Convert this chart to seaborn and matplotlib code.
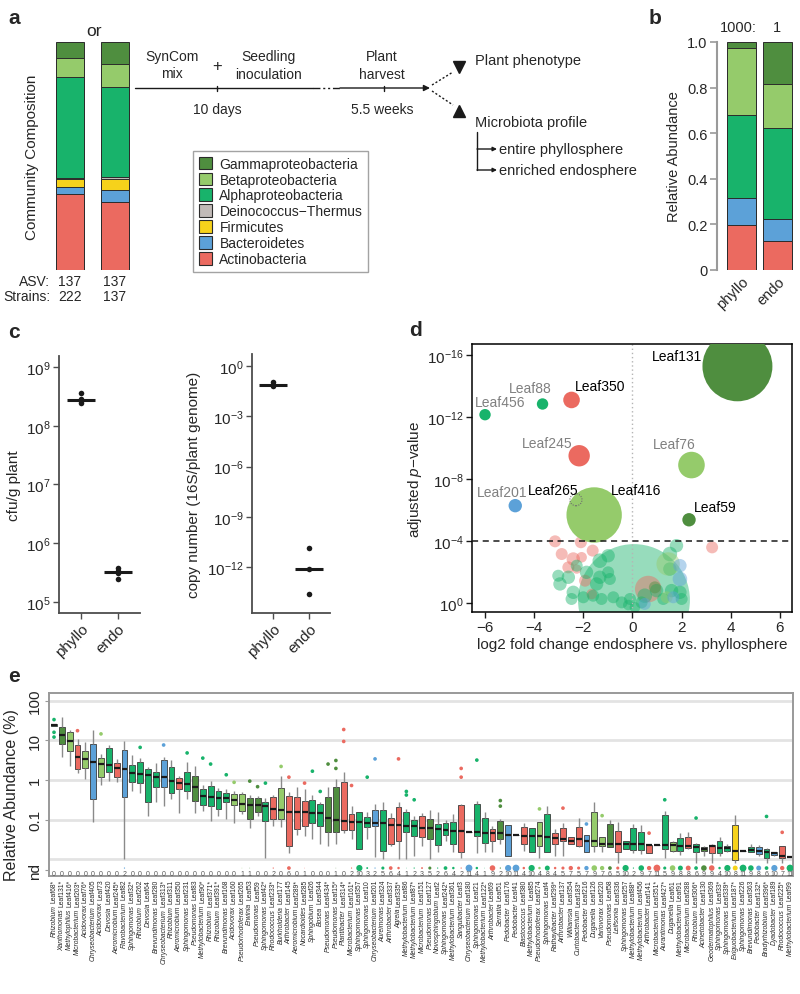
import numpy as np
import pandas as pd
import matplotlib
matplotlib.use("Agg")
import matplotlib.pyplot as plt
from matplotlib.patches import Patch
import seaborn as sns

sns.set_theme(style="white")
plt.rcParams["font.family"] = ["Liberation Sans", "DejaVu Sans"]
plt.rcParams["mathtext.fontset"] = "custom"
plt.rcParams["mathtext.rm"] = "Liberation Sans"
plt.rcParams["mathtext.it"] = "Liberation Sans:italic"
plt.rcParams["mathtext.bf"] = "Liberation Sans:bold"

W, H = 800, 995

# %% data ---------------------------------------------------------------
phyla = ["Gammaproteobacteria", "Betaproteobacteria", "Alphaproteobacteria",
         "Deinococcus\u2212Thermus", "Firmicutes", "Bacteroidetes", "Actinobacteria"]
phylum_colors = ["#4f8e3f", "#95cb6b", "#18b36b", "#c1bab7", "#f6d21b", "#5ca1d8", "#eb6a60"]
palette = dict(zip(phyla, phylum_colors))
G, B, A, D, F, BAC, ACT = phyla

# panel a: SynCom composition (fractions, same order as phyla = top to bottom)
comp_222 = [0.070, 0.084, 0.443, 0.004, 0.034, 0.032, 0.333]
comp_137 = [0.095, 0.103, 0.394, 0.007, 0.051, 0.051, 0.299]
asv_counts = [137, 137]
strain_counts = [222, 137]

# panel b: relative abundance phyllo / endo
rel_phyllo = [0.028, 0.292, 0.365, 0.0, 0.0, 0.119, 0.196]
rel_endo = [0.186, 0.189, 0.402, 0.0, 0.0, 0.095, 0.128]

# panel c: log10 values
cfu_phyllo = [8.56, 8.46, 8.42, 8.39]
cfu_endo = [5.57, 5.53, 5.49, 5.39]
copy_phyllo = [-0.93, -1.15, -1.17]
copy_endo = [-10.86, -12.11, -13.59]

# panel d: labelled strains (log2 FC, -log10 adjusted p)
d_names = ["Leaf131", "Leaf350", "Leaf88", "Leaf456", "Leaf245", "Leaf76",
           "Leaf201", "Leaf265", "Leaf416", "Leaf59"]
d_lfc = [4.27, -2.48, -3.66, -6.00, -2.17, 2.40, -4.77, -2.30, -1.56, 2.30]
d_nlp = [15.27, 13.10, 12.84, 12.15, 9.50, 8.90, 6.28, 6.66, 5.68, 5.37]
d_phylum = [G, ACT, A, A, ACT, B, BAC, B, B, G]
d_radius = [35, 8.3, 5.7, 5.7, 10.7, 13.3, 6.7, 6.0, 27.7, 6.7]
d_dark_label = [True, True, False, False, False, False, False, True, True, True]
d_label_x = [1.83, -1.30, -4.16, -5.39, -3.47, 1.68, -5.32, -3.21, 0.14, 3.36]
d_label_y = [15.92, 13.98, 13.85, 12.99, 10.30, 10.26, 7.18, 7.31, 7.31, 6.19]

# panel d: non-significant strains
d_bg_lfc = [0.06,
            -3.15, -2.10, -2.88, -2.41, -2.07, -1.62, -2.61, 3.24, -1.93, -1.66, 0.64, -2.27,
            1.79, 1.52, -1.33, -0.99, -2.27, -2.95, -2.61, -2.41, -2.48, -1.46, -1.33, -0.99, -0.92,
            -1.60, -1.26, -0.78, -0.44, -0.17, 0.10, 0.37, 0.50, 0.98, 1.25, 1.59, 1.93, 2.00, 1.52,
            -0.10, -2.00, -3.02, -1.87,
            1.45, 1.39,
            1.93, 1.93, 1.66, 0.50,
            0.91]
d_bg_nlp = [0.19,
            3.98, 3.92, 3.16, 2.84, 2.95, 3.38, 2.30, 3.59, 1.44, 0.58, 0.90, 2.19,
            3.70, 3.16, 2.73, 3.05, 2.41, 1.23, 1.66, 0.69, 0.26, 1.23, 1.66, 1.98, 1.55,
            0.47, 0.26, 0.37, 0.04, -0.13, -0.28, 0.04, 0.47, 0.80, 0.26, 0.80, 0.69, 0.26, 2.19,
            0.26, 0.37, 1.76, 1.98,
            2.52, 0.37,
            2.41, 1.55, 0.37, -0.06,
            1.01]
d_bg_phylum = [A] + [ACT] * 12 + [A] * 31 + [B] * 2 + [BAC] * 4 + [G]
d_bg_radius = [56,
               6, 6, 6, 6.7, 5.3, 6, 6, 6, 6, 5.3, 13.3, 4.7,
               6.7, 7.3, 7.3, 6.7, 6, 6.7, 6.7, 6.7, 6, 6.7, 6.7, 6, 6,
               6, 6, 6, 6, 5.3, 5.3, 6, 7.3, 6.7, 6, 6.7, 6.7, 6, 6.7,
               6, 6, 6, 6.7,
               11.7, 6,
               6.7, 7.3, 6, 6,
               6]

# panel e: strains
e_genus = ["Rhizobium", "Xanthomonas", "Methylophilus", "Microbacterium", "Acidovorax",
           "Chryseobacterium", "Acidovorax", "Devosia", "Aeromicrobium", "Flavobacterium",
           "Sphingomonas", "Rhizobium", "Devosia", "Brevundimonas", "Chryseobacterium",
           "Rhizobium", "Aeromicrobium", "Sphingomonas", "Pseudomonas", "Methylobacterium",
           "Rhizobium", "Rhizobium", "Brevundimonas", "Acidovorax", "Pseudorhodoferax",
           "Erwinia", "Pseudomonas", "Sphingomonas", "Rhodococcus", "Burkholderia",
           "Arthrobacter", "Aeromicrobium", "Nocardioides", "Sphingobium", "Bosea",
           "Pseudomonas", "Pseudomonas", "Plantibacter", "Microbacterium", "Sphingomonas",
           "Sphingomonas", "Chryseobacterium", "Aureimonas", "Arthrobacter", "Agreia",
           "Methylobacterium", "Methylobacterium", "Microbacterium", "Pseudomonas", "Novosphingobium",
           "Sphingomonas", "Methylobacterium", "Sanguibacter", "Chryseobacterium", "Sphingomonas",
           "Methylobacterium", "Arthrobacter", "Serratia", "Pedobacter", "Pedobacter",
           "Blastococcus", "Methylobacterium", "Pseudorhodoferax", "Sphingomonas", "Rathayibacter",
           "Arthrobacter", "Williamsia", "Curtobacterium", "Pedobacter", "Duganella",
           "Variovorax", "Pseudomonas", "Leifsonia", "Sphingomonas", "Methylobacterium",
           "Methylobacterium", "Arthrobacter", "Microbacterium", "Aurantimonas", "Duganella",
           "Methylobacterium", "Microbacterium", "Rhizobium", "Acinetobacter", "Geodermatophilus",
           "Sphingomonas", "Sphingomonas", "Exiguobacterium", "Sphingomonas", "Brevundimonas",
           "Pedobacter", "Bradyrhizobium", "Dyadobacter", "Rhodococcus", "Methylobacterium"]
e_leaf = ["Leaf68*", "Leaf131*", "Leaf416*", "Leaf203*", "Leaf76*", "Leaf405", "Leaf73", "Leaf420", "Leaf245*", "Leaf82",
          "Leaf32*", "Leaf262", "Leaf64", "Leaf280", "Leaf313*", "Leaf311", "Leaf350", "Leaf231", "Leaf83", "Leaf90*",
          "Leaf371*", "Leaf391*", "Leaf168", "Leaf160", "Leaf265", "Leaf53", "Leaf59", "Leaf42*", "Leaf233*", "Leaf177",
          "Leaf145", "Leaf289*", "Leaf285", "Leaf26", "Leaf344", "Leaf434*", "Leaf15*", "Leaf314*", "Leaf161*", "Leaf357",
          "Leaf10", "Leaf201", "Leaf324", "Leaf337", "Leaf335*", "Leaf86", "Leaf87*", "Leaf151", "Leaf127", "Leaf2",
          "Leaf242*", "Leaf361", "Leaf3", "Leaf180", "Leaf21", "Leaf122*", "Leaf69", "Leaf51", "Leaf176", "Leaf41",
          "Leaf380", "Leaf85", "Leaf274", "Leaf4", "Leaf299*", "Leaf137", "Leaf354", "Leaf183*", "Leaf216", "Leaf126",
          "Leaf220", "Leaf58", "Leaf336", "Leaf257", "Leaf88*", "Leaf456", "Leaf141", "Leaf351*", "Leaf427*", "Leaf61",
          "Leaf91", "Leaf288", "Leaf306*", "Leaf130", "Leaf369", "Leaf33*", "Leaf339*", "Leaf187*", "Leaf226", "Leaf363",
          "Leaf132*", "Leaf396*", "Leaf189", "Leaf225*", "Leaf99"]
genus_phylum = {}
for g in ["Rhizobium", "Methylobacterium", "Sphingomonas", "Devosia", "Brevundimonas", "Sphingobium",
          "Bosea", "Aureimonas", "Novosphingobium", "Aurantimonas", "Bradyrhizobium"]:
    genus_phylum[g] = A
for g in ["Methylophilus", "Acidovorax", "Pseudorhodoferax", "Burkholderia", "Duganella", "Variovorax"]:
    genus_phylum[g] = B
for g in ["Xanthomonas", "Pseudomonas", "Erwinia", "Serratia", "Acinetobacter"]:
    genus_phylum[g] = G
for g in ["Microbacterium", "Aeromicrobium", "Rhodococcus", "Arthrobacter", "Nocardioides", "Plantibacter",
          "Agreia", "Sanguibacter", "Blastococcus", "Rathayibacter", "Williamsia", "Curtobacterium",
          "Leifsonia", "Geodermatophilus"]:
    genus_phylum[g] = ACT
for g in ["Chryseobacterium", "Flavobacterium", "Pedobacter", "Dyadobacter"]:
    genus_phylum[g] = BAC
genus_phylum["Exiguobacterium"] = F

# box statistics, log10 of relative abundance (%)
e_lo = [1.35, 0.57, 0.34, 0.18, 0.03, -1.07, -0.14, -0.02, -0.06, -1.99,
        -0.27, -0.34, -0.92, -0.56, -0.66, -0.48, -0.83, -0.48, -0.83, -0.77,
        -1.03, -0.90, -0.98, -1.09, -0.86, -1.22, -0.90, -1.97, -1.15, -1.19,
        -1.84, -1.39, -1.40, -1.49, -1.61, -1.67, -1.61, -1.34, -1.49, -1.74,
        -1.49, -1.95, -2.00, -1.66, -2.00, -1.99, -1.91, -1.67, -2.00, -1.82,
        -1.53, -1.82, -1.97, -1.32, -1.84, -1.82, -1.82, -1.61, -1.92, -1.39,
        -1.78, -1.81, -1.97, -1.81, -1.91, -1.91, -1.61, -1.70, -1.81, -1.81,
        -1.82, -1.70, -2.09, -1.74, -1.84, -1.86, -1.84, -1.64, -1.97, -1.81,
        -1.88, -1.74, -2.08, -1.91, -2.09, -1.91, -1.82, -2.09, -1.78, -1.81,
        -1.91, -2.08, -1.91, -2.08, -1.95]
e_q1 = [1.35, 0.91, 0.74, 0.28, 0.29, -0.48, 0.07, 0.19, 0.08, -0.44,
        -0.04, -0.08, -0.56, -0.18, -0.17, -0.33, -0.23, -0.29, -0.52, -0.63,
        -0.65, -0.73, -0.56, -0.62, -0.77, -0.98, -0.80, -1.03, -0.98, -0.98,
        -1.66, -1.24, -1.15, -1.08, -1.17, -1.30, -1.30, -1.25, -1.25, -1.74,
        -1.19, -1.17, -1.78, -1.61, -1.55, -1.30, -1.40, -1.45, -1.50, -1.64,
        -1.39, -1.61, -1.81, -1.32, -1.42, -1.59, -1.55, -1.49, -1.92, -1.39,
        -1.61, -1.81, -1.67, -1.81, -1.61, -1.55, -1.61, -1.66, -1.81, -1.67,
        -1.67, -1.70, -1.81, -1.74, -1.76, -1.76, -1.84, -1.64, -1.74, -1.78,
        -1.78, -1.72, -1.81, -1.78, -1.84, -1.84, -1.78, -2.01, -1.78, -1.81,
        -1.87, -1.97, -1.89, -1.97, -1.95]
e_med = [1.38, 1.13, 0.99, 0.58, 0.52, 0.45, 0.39, 0.38, 0.29, 0.28,
         0.18, 0.16, 0.13, 0.08, 0.07, -0.02, -0.08, -0.09, -0.19, -0.41,
         -0.42, -0.45, -0.45, -0.50, -0.61, -0.63, -0.63, -0.65, -0.73, -0.75,
         -0.80, -0.80, -0.80, -0.83, -0.84, -0.95, -1.00, -1.03, -1.05, -1.07,
         -1.08, -1.09, -1.09, -1.13, -1.13, -1.17, -1.17, -1.20, -1.22, -1.24,
         -1.25, -1.28, -1.29, -1.32, -1.32, -1.34, -1.34, -1.34, -1.38, -1.39,
         -1.40, -1.40, -1.40, -1.43, -1.47, -1.49, -1.53, -1.50, -1.53, -1.55,
         -1.61, -1.61, -1.61, -1.61, -1.61, -1.62, -1.64, -1.64, -1.64, -1.64,
         -1.66, -1.67, -1.70, -1.74, -1.67, -1.71, -1.71, -1.78, -1.78, -1.76,
         -1.78, -1.82, -1.84, -1.92, -1.95]
e_q3 = [1.40, 1.34, 1.22, 0.87, 0.73, 0.91, 0.55, 0.81, 0.43, 0.76,
        0.38, 0.45, 0.28, 0.19, 0.50, 0.32, 0.04, 0.19, 0.11, -0.23,
        -0.16, -0.27, -0.33, -0.35, -0.35, -0.46, -0.46, -0.55, -0.44, -0.21,
        -0.41, -0.44, -0.52, -0.50, -0.61, -0.42, -0.18, -0.06, -0.87, -0.82,
        -0.94, -0.75, -0.76, -0.95, -0.69, -0.82, -1.00, -0.92, -0.98, -1.10,
        -1.09, -1.05, -0.62, -1.32, -0.60, -0.97, -1.23, -1.04, -1.13, -1.39,
        -1.19, -1.22, -1.07, -0.86, -1.33, -1.22, -1.45, -1.19, -1.39, -0.82,
        -1.45, -1.11, -1.28, -1.55, -1.22, -1.32, -1.64, -1.64, -0.88, -1.57,
        -1.47, -1.45, -1.61, -1.68, -1.64, -1.55, -1.66, -1.13, -1.78, -1.70,
        -1.70, -1.74, -1.81, -1.66, -1.95]
e_hi = [1.40, 1.58, 1.27, 1.03, 0.95, 1.27, 0.66, 0.88, 0.53, 0.99,
        0.63, 0.55, 0.32, 0.43, 0.57, 0.49, 0.09, 0.45, 0.34, -0.14,
        -0.02, -0.21, -0.23, -0.27, -0.31, -0.38, -0.41, -0.46, -0.38, 0.11,
        -0.31, -0.18, -0.24, -0.38, -0.55, -0.18, 0.03, 0.19, -0.65, -0.82,
        -0.82, -0.61, -0.55, -0.83, -0.56, -0.73, -0.90, -0.83, -0.75, -0.82,
        -1.02, -0.86, -0.60, -1.32, -0.52, -0.80, -1.15, -0.98, -1.13, -1.39,
        -1.08, -1.22, -1.07, -0.65, -1.24, -1.08, -1.45, -0.97, -1.39, -0.56,
        -1.45, -1.00, -1.07, -1.55, -1.11, -1.13, -1.64, -1.64, -0.77, -1.55,
        -1.34, -1.32, -1.59, -1.66, -1.61, -1.45, -1.61, -0.88, -1.78, -1.61,
        -1.64, -1.72, -1.81, -1.66, -1.95]
e_out_idx = [0, 0, 0, 3, 6, 11, 14, 17, 19, 20, 22, 23, 25, 26, 27, 29, 30, 32, 33, 34, 35,
             36, 36, 37, 37, 38, 40, 41, 44, 45, 45, 46, 52, 52, 54, 57, 57, 62, 65, 68, 70,
             76, 78, 82, 91, 93]
e_out_val = [1.52, 1.20, 1.08, 1.24, 1.16, 0.82, 0.88, 0.68, 0.55, 0.40, 0.13, -0.06, -0.03,
             -0.17, -0.08, 0.34, 0.07, -0.08, 0.22, -0.29, 0.40, 0.49, 0.29, 1.27, 0.97, -0.14,
             0.07, 0.53, 0.53, -0.29, -0.38, -0.50, 0.29, 0.07, 0.50, -0.52, -0.66, -0.73, -0.71,
             -1.11, -0.90, -1.34, -0.50, -0.96, -0.92, -1.32]
# number of samples where the strain was not detected
e_nd = [0, 0, 0, 0, 0, 0, 0, 0, 0, 2, 0, 0, 0, 0, 0, 0, 0, 0, 0, 0,
        0, 0, 0, 0, 1, 1, 0, 0, 2, 0, 6, 0, 1, 0, 0, 0, 1, 0, 2, 10,
        3, 2, 5, 6, 4, 1, 2, 3, 5, 2, 6, 4, 2, 11, 4, 1, 9, 2, 10, 11,
        4, 10, 4, 8, 4, 5, 7, 5, 7, 9, 7, 6, 5, 10, 2, 9, 7, 11, 5, 9,
        8, 8, 6, 9, 9, 4, 10, 8, 11, 9, 8, 6, 10, 7, 11]

# %% figure -------------------------------------------------------------
fig = plt.figure(figsize=(W / 100, H / 100), dpi=100)


def px_axes(l, t, r, b):
    ax = fig.add_axes([l / W, 1 - b / H, (r - l) / W, (b - t) / H])
    ax.set_facecolor("none")
    return ax


def stacked_bars(ax, cats, fracs, width):
    # draw tallest first, each lower phylum on top of it
    for k, col in enumerate(phylum_colors):
        tops = [sum(f[k:]) for f in fracs]
        sns.barplot(x=cats, y=tops, color=col, width=width, saturation=1,
                    edgecolor="#2b2b2b", linewidth=0.7, errorbar=None, ax=ax)


ax_bg = px_axes(0, 0, W, H)
ax_bg.set_xlim(0, W)
ax_bg.set_ylim(H, 0)
ax_bg.axis("off")

for lab, x, y in [("a", 14, 18), ("b", 655, 18), ("c", 14, 333), ("d", 416, 330), ("e", 14, 677)]:
    ax_bg.text(x, y, lab, fontsize=15, fontweight="bold", ha="center", va="center")

# ---- panel a
ax_a = px_axes(45, 43, 140, 271)
stacked_bars(ax_a, ["s222", "s137"], [comp_222, comp_137], 0.62)
ax_a.set_xlim(-0.556, 1.556)
ax_a.set_ylim(0, 1)
ax_a.axis("off")

ax_bg.text(94, 32, "or", fontsize=12.5, ha="center", va="center")
ax_bg.text(32, 157, "Community Composition", fontsize=11, rotation=90, ha="center", va="center")
ax_bg.text(50, 282, "ASV:", fontsize=10, ha="right", va="center")
ax_bg.text(50, 297, "Strains:", fontsize=10, ha="right", va="center")
for xc, n_asv, n_str in zip([70, 115], asv_counts, strain_counts):
    ax_bg.text(xc, 282, str(n_asv), fontsize=10, ha="center", va="center")
    ax_bg.text(xc, 297, str(n_str), fontsize=10, ha="center", va="center")

handles = [Patch(facecolor=c, edgecolor="#2b2b2b", linewidth=0.8, label=p)
           for p, c in zip(phyla, phylum_colors)]
leg = fig.legend(handles=handles, loc="upper left", bbox_to_anchor=(193 / W, 1 - 152 / H),
                 frameon=True, fancybox=False, edgecolor="#8c8c8c", fontsize=10,
                 handlelength=1.0, handleheight=1.0, handletextpad=0.5,
                 labelspacing=0.14, borderpad=0.4, borderaxespad=0)
leg.get_frame().set_linewidth(1.0)

# workflow diagram
ax_bg.plot([135, 313], [89, 89], color="k", lw=1)
ax_bg.plot([313, 340], [89, 89], color="k", lw=1, ls=(0, (5, 2, 1.5, 2, 1.5, 2)))
ax_bg.annotate("", xy=(430, 89), xytext=(340, 89),
               arrowprops=dict(arrowstyle="-|>", color="k", lw=1, mutation_scale=9,
                               shrinkA=0, shrinkB=0))
for xt in [217, 384]:
    ax_bg.plot([xt, xt], [86.5, 91.5], color="k", lw=1)
ax_bg.plot([432, 453], [86, 73], color="k", lw=1, ls=(0, (1.5, 1.5)))
ax_bg.plot([432, 453], [92, 106], color="k", lw=1, ls=(0, (1.5, 1.5)))
ax_bg.plot(459, 68, marker="v", color="k", ms=8)
ax_bg.plot(459, 112, marker="^", color="k", ms=8)
ax_bg.plot([477, 477], [133, 171], color="k", lw=1)
for yy in [150, 171]:
    ax_bg.annotate("", xy=(497, yy), xytext=(477, yy),
                   arrowprops=dict(arrowstyle="-|>", color="k", lw=1, mutation_scale=6,
                                   shrinkA=0, shrinkB=0))
ax_bg.text(172, 57, "SynCom", fontsize=10, ha="center", va="center")
ax_bg.text(172, 74, "mix", fontsize=10, ha="center", va="center")
ax_bg.text(217, 67, "+", fontsize=12, ha="center", va="center")
ax_bg.text(268, 57, "Seedling", fontsize=10, ha="center", va="center")
ax_bg.text(268, 75, "inoculation", fontsize=10, ha="center", va="center")
ax_bg.text(217, 110, "10 days", fontsize=10, ha="center", va="center")
ax_bg.text(382, 57, "Plant", fontsize=10, ha="center", va="center")
ax_bg.text(382, 75, "harvest", fontsize=10, ha="center", va="center")
ax_bg.text(382, 110, "5.5 weeks", fontsize=10, ha="center", va="center")
ax_bg.text(475, 61, "Plant phenotype", fontsize=10.5, ha="left", va="center")
ax_bg.text(475, 123, "Microbiota profile", fontsize=10.5, ha="left", va="center")
ax_bg.text(499, 150, "entire phyllosphere", fontsize=10.5, ha="left", va="center")
ax_bg.text(499, 171, "enriched endosphere", fontsize=10.5, ha="left", va="center")

# ---- panel b
ax_b = px_axes(717, 43, 795, 271)
stacked_bars(ax_b, ["phyllo", "endo"], [rel_phyllo, rel_endo], 0.8)
ax_b.set_xlim(-0.68, 1.49)
ax_b.set_ylim(0, 1)
for s in ["top", "right", "bottom"]:
    ax_b.spines[s].set_visible(False)
ax_b.spines["left"].set_color("#9a9a9a")
ax_b.spines["left"].set_linewidth(1.5)
ax_b.set_yticks([0, 0.2, 0.4, 0.6, 0.8, 1.0])
ax_b.set_yticklabels(["0", "0.2", "0.4", "0.6", "0.8", "1.0"], fontsize=10.5)
ax_b.tick_params(axis="y", direction="out", length=5, width=1.2, color="#9a9a9a", pad=2, left=True)
ax_b.set_xticks([0, 1])
ax_b.set_xticklabels(["phyllo", "endo"], rotation=45, ha="right", rotation_mode="anchor", fontsize=10.5)
ax_b.tick_params(axis="x", length=0, pad=3)
ax_b.set_ylabel("Relative Abundance", fontsize=10.5, labelpad=4)
ax_b.set_xlabel("")
ax_bg.text(738, 28, "1000:", fontsize=10.5, ha="center", va="center")
ax_bg.text(777, 28, "1", fontsize=10.5, ha="center", va="center")


# ---- panel c
def dot_panel(ax, phyllo, endo, yticks, ylim, xlim, ylabel):
    df = pd.DataFrame({"site": ["phyllo"] * len(phyllo) + ["endo"] * len(endo),
                       "val": phyllo + endo})
    sns.stripplot(data=df, x="site", y="val", jitter=False, color="k", size=4, ax=ax, zorder=3)
    sns.pointplot(data=df, x="site", y="val", estimator="median", errorbar=None, color="k",
                  marker="_", markersize=20, markeredgewidth=2.2, linestyle="none", ax=ax)
    ax.set_xlim(*xlim)
    ax.set_ylim(*ylim)
    ax.set_yticks(yticks)
    ax.set_yticklabels([r"$10^{%d}$" % t for t in yticks], fontsize=11)
    ax.set_xticks([0, 1])
    ax.set_xticklabels(["phyllo", "endo"], rotation=45, ha="right", rotation_mode="anchor", fontsize=11)
    for s in ["top", "right"]:
        ax.spines[s].set_visible(False)
    for s in ["left", "bottom"]:
        ax.spines[s].set_color("#4d4d4d")
        ax.spines[s].set_linewidth(1.3)
    ax.tick_params(direction="out", length=4, width=1, color="#4d4d4d", left=True, bottom=True, pad=2)
    ax.set_xlabel("")
    ax.set_ylabel(ylabel, fontsize=11, labelpad=4)


ax_c1 = px_axes(59, 357, 140, 614)
dot_panel(ax_c1, cfu_phyllo, cfu_endo, [5, 6, 7, 8, 9], (4.81, 9.19), (-0.59, 1.6), "cfu/g plant")
ax_c2 = px_axes(252, 355, 330, 614)
dot_panel(ax_c2, copy_phyllo, copy_endo, [-12, -9, -6, -3, 0], (-14.75, 0.72), (-0.58, 1.58),
          "copy number (16S/plant genome)")

# ---- panel d
ax_d = px_axes(472, 345, 792, 613)
bg_s = 2.07 * np.array(d_bg_radius) ** 2
sns.scatterplot(x=d_bg_lfc, y=d_bg_nlp, hue=d_bg_phylum, palette=palette, size=bg_s,
                sizes=(bg_s.min(), bg_s.max()), size_norm=(bg_s.min(), bg_s.max()),
                alpha=0.45, linewidth=0, legend=False, ax=ax_d)
lab_s = 2.07 * np.array(d_radius) ** 2
solid = [n != "Leaf265" for n in d_names]
sns.scatterplot(x=np.array(d_lfc)[solid], y=np.array(d_nlp)[solid],
                hue=np.array(d_phylum)[solid], palette=palette, size=lab_s[solid],
                sizes=(lab_s.min(), lab_s.max()), size_norm=(lab_s.min(), lab_s.max()),
                linewidth=0, legend=False, ax=ax_d, zorder=3)
hollow = d_names.index("Leaf265")
ax_d.scatter([d_lfc[hollow]], [d_nlp[hollow]], s=[lab_s[hollow]], facecolors="none",
             edgecolors="#6e6e6e", linewidths=0.8, linestyle=(0, (1, 1.2)), zorder=4)
for name, x, y, dark in zip(d_names, d_label_x, d_label_y, d_dark_label):
    ax_d.text(x, y, name, fontsize=10, ha="center", va="center",
              color="black" if dark else "#808080", zorder=5)
ax_d.axhline(4, color="k", lw=1.1, ls=(0, (4, 3)), zorder=4)
ax_d.axvline(0, color="#b5b5b5", lw=1, ls=(0, (1, 2)), zorder=1)
ax_d.set_xlim(-6.53, 6.49)
ax_d.set_ylim(-0.58, 16.71)
ax_d.set_xticks([-6, -4, -2, 0, 2, 4, 6])
ax_d.set_xticklabels(["\u22126", "\u22124", "\u22122", "0", "2", "4", "6"], fontsize=11)
ax_d.set_yticks([0, 4, 8, 12, 16])
ax_d.set_yticklabels([r"$10^{0}$", r"$10^{-4}$", r"$10^{-8}$", r"$10^{-12}$", r"$10^{-16}$"], fontsize=11)
for s in ax_d.spines.values():
    s.set_color("black")
    s.set_linewidth(1.1)
ax_d.tick_params(direction="out", length=4, width=1, color="k", left=True, bottom=True, pad=2)
ax_d.set_xlabel("log2 fold change endosphere vs. phyllosphere", fontsize=11, labelpad=2)
ax_d.set_ylabel("adjusted $p$\u2212value", fontsize=11, labelpad=2)

# ---- panel e
e_phylum = [genus_phylum[g] for g in e_genus]
box_vals = np.sort(np.column_stack([e_lo, e_q1, e_med, e_q3, e_hi]), axis=1)
df_e = pd.DataFrame({"strain": np.repeat(e_leaf, 5),
                     "log_ab": box_vals.ravel(),
                     "phylum": np.repeat(e_phylum, 5)})
ax_e = px_axes(49, 694, 793, 877)
for yy in [2, 1, 0, -1, -2]:
    ax_e.axhline(yy, color="#e3e3e3", lw=2, zorder=0)
sns.boxplot(data=df_e, x="strain", y="log_ab", hue="phylum", order=e_leaf, hue_order=phyla,
            palette=palette, dodge=False, whis=(0, 100), showfliers=False, showcaps=False,
            width=0.75, linewidth=0.6, linecolor="#3a3a3a", saturation=1, legend=False,
            whiskerprops={"color": "#8a8a8a", "linewidth": 1.0},
            medianprops={"color": "k", "linewidth": 1.6}, ax=ax_e)
sns.scatterplot(x=e_out_idx, y=e_out_val, hue=[e_phylum[i] for i in e_out_idx], palette=palette,
                s=7, linewidth=0, legend=False, ax=ax_e, zorder=3)
ax_e.scatter(np.arange(len(e_nd)), np.full(len(e_nd), -2.22), s=0.2 * np.array(e_nd) ** 2,
             c=[palette[p] for p in e_phylum], linewidths=0, zorder=3)
for i, n in enumerate(e_nd):
    ax_e.text(i, -2.35, str(n), fontsize=5, color="#555555", ha="center", va="center")
ax_e.set_xlim(-0.64, 94.38)
ax_e.set_ylim(-2.42, 2.19)
ax_e.set_xticks(np.arange(len(e_leaf)))
ax_e.set_xticklabels([])
ax_e.tick_params(axis="x", length=0)
ax_e.set_yticks([2, 1, 0, -1, -2.28])
ax_e.set_yticklabels(["100", "10", "1", "0.1", "nd"], rotation=90, va="center", fontsize=11)
ax_e.tick_params(axis="y", direction="out", length=3, width=0.8, color="#999999", left=True, pad=2)
for s in ax_e.spines.values():
    s.set_color("#999999")
    s.set_linewidth(1.4)
ax_e.set_xlabel("")
ax_e.set_ylabel("Relative Abundance (%)", fontsize=11.5)
ax_e.yaxis.set_label_coords(-0.04, 0.45)

# strain labels: regular strain id next to the axis, italic genus below it
lab_fs = 4.9
leaf_texts = [ax_e.annotate(l, xy=(i, 0), xycoords=("data", "axes fraction"), xytext=(0, -2),
                            textcoords="offset points", rotation=90, ha="center", va="top",
                            fontsize=lab_fs, annotation_clip=False)
              for i, l in enumerate(e_leaf)]
fig.canvas.draw()
renderer = fig.canvas.get_renderer()
for i, (g, t) in enumerate(zip(e_genus, leaf_texts)):
    h_pt = t.get_window_extent(renderer).height * 72 / fig.dpi
    ax_e.annotate(g, xy=(i, 0), xycoords=("data", "axes fraction"),
                  xytext=(0, -2 - h_pt - lab_fs * 0.3), textcoords="offset points",
                  rotation=90, ha="center", va="top", fontsize=lab_fs, fontstyle="italic",
                  annotation_clip=False)

fig.savefig("out.png", dpi=100)
